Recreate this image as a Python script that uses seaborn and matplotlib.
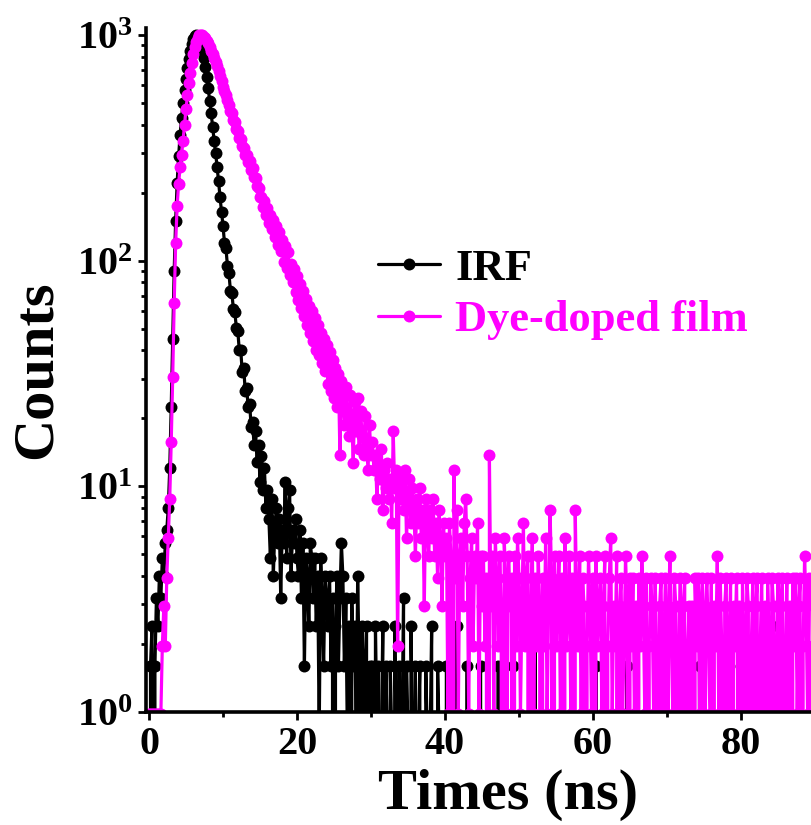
import numpy as np
import pandas as pd
import matplotlib
matplotlib.use("Agg")
import matplotlib.pyplot as plt
import seaborn as sns
from matplotlib.ticker import FixedLocator, LogLocator, NullFormatter, MultipleLocator

# ---------------- data ----------------
bin_ns = 0.2            # channel width of the decay histograms (ns)
irf_scale = 0.8         # normalised value of one IRF count
film_scale = 0.98       # normalised value of one film count

irf_counts = [
    0, 2, 3, 0, 2, 4, 3, 5, 4, 6, 5, 7, 8,
    10, 15, 28, 56, 112, 188, 275, 362, 450, 538,
    625, 712, 800, 888, 975, 1062, 1138, 1200, 1238, 1250,
    1231, 1188, 1125, 1062, 988, 900, 812, 725, 638, 562,
    488, 425, 375, 325, 281, 238, 206,
    178, 150, 142, 118, 110, 92, 90, 76, 74, 63,
    61, 50, 50, 40, 42, 33, 34, 28, 29, 23,
    24, 19, 22, 16, 19, 13, 17, 12, 15, 10,
    12,
    9, 6, 11, 5, 8, 10, 7, 9, 4, 8,
    7, 13, 6, 10, 12, 5, 8, 7, 9, 6,
    5, 8, 4, 7, 2, 6, 5, 3, 7, 6,
    4, 6, 3, 5, 1, 6, 4, 2, 5, 4,
    3, 5, 2, 4, 0, 3, 5, 2, 4, 7,
    5, 2, 4, 1, 3, 0, 4, 2, 3, 1,
    5, 2, 0, 3, 1, 2, 3, 0, 2, 1,
    2, 0, 3, 1, 2, 0, 1, 3, 0, 2,
    1, 0, 2, 1, 0, 3, 1, 0, 2, 0,
    1, 4, 0, 2, 1, 0, 3, 1, 0, 2,
    0, 1, 2, 0, 1, 0, 2, 1, 0, 1,
    3, 0, 1, 0, 2, 1, 0, 0, 1, 0,
    2, 0, 1, 0, 0, 1, 0, 3, 0, 1,
    0, 0, 1, 0, 2, 0, 0, 1, 0, 0,
    1, 0, 0, 2, 0, 1, 0, 0, 0, 1,
    0, 0, 1, 0, 0, 2, 0, 0, 1, 0,
    0, 1, 0, 0, 0, 2, 0, 0, 0, 1,
    0, 0, 1, 0, 0, 0, 1, 0, 0, 0,
    3, 0, 0, 1, 0, 0, 0, 1, 0, 0,
    0, 1, 0, 0, 0, 0, 1, 0, 0, 0,
    1, 0, 0, 0, 1, 0, 0, 0, 0, 1,
    0, 0, 0, 1, 0, 0, 0, 0, 1, 0,
    0, 2, 0, 0, 0, 1, 0, 0, 0, 0,
    1, 0, 0, 0, 0, 1, 0, 0, 0, 0,
    0, 0, 2, 0, 0, 0, 1, 0, 0, 0,
    0, 1, 0, 0, 0, 0, 0, 1, 0, 0,
    0, 0, 0, 1, 0, 0, 0, 0, 0, 1,
    0, 0, 0, 0, 1, 0, 0, 0, 0, 0,
    1, 0, 0, 0, 0, 0, 0, 1, 0, 0,
    0, 2, 0, 0, 0, 0, 1, 0, 0, 0,
    0, 0, 0, 0, 1, 0, 0, 0, 0, 0,
    0, 2, 0, 0, 0, 0, 0, 1, 0, 0,
    0, 0, 0, 1, 0, 0, 0, 0, 0, 0,
    1, 0, 0, 0, 0, 0, 0, 0, 1, 0,
    3, 0, 0, 0, 0, 1, 0, 0, 0, 0,
    0, 0, 1, 0, 0, 0, 0, 0, 0, 0,
    0, 1, 0, 0, 0, 0, 0, 0, 1, 0,
    0, 0, 0, 0, 1, 0, 0, 0, 0, 0,
]

film_counts = [
    1, 1, 1, 1, 1, 1, 1, 1, 1,
    2, 3, 2, 4, 6, 9, 16, 31, 66,
    122, 178, 224, 265, 301, 347, 408, 480, 551,
    622, 694, 765, 837, 898, 949, 990, 1015, 1020,
    1015, 1000, 985, 960, 938, 905, 870, 840, 805, 775,
    740, 706, 672, 636, 602, 578, 550, 525, 500, 470,
    462, 428, 420, 390, 381, 356, 352, 329, 322, 300,
    301, 280, 283, 258, 262, 240, 236, 218, 214, 195,
    196, 176, 188, 162, 175, 150, 163, 141, 155, 130,
    145, 120, 136, 112, 126, 101, 118, 95, 111, 88,
    99, 82, 94, 74, 87, 68, 80, 63, 75, 58,
    69, 53, 64, 49, 61, 45, 57, 41, 53, 39,
    49, 36, 46, 33, 43, 29, 40, 27, 37, 25,
    34, 23, 32, 14, 30, 25, 19, 28, 22, 17,
    26, 20, 13, 24, 18, 25, 15, 22, 17, 14,
    21, 16, 12, 19, 14,
    16, 12, 14, 9, 13, 11, 15, 8, 12, 10,
    13, 9, 11, 7, 18, 10, 12, 2, 11, 9,
    10, 8, 12, 6, 9, 11, 7, 10, 8, 5,
    9, 7, 10, 6, 8, 3, 9, 7, 5, 8,
    6, 9, 5, 7, 4, 8, 6, 3, 7, 5,
    6, 1, 7, 5, 0, 12, 4, 8, 1, 5,
    6, 3, 7, 9, 5, 1, 4, 6, 2, 5,
    4, 7, 1, 5, 3,
    5, 2, 4, 0, 14, 3, 5, 1, 6, 4,
    2, 5, 3, 0, 6, 4, 1, 5, 3, 4,
    0, 5, 2, 6, 4, 1, 3, 7, 2, 4,
    5, 0, 3, 6, 1, 4, 2, 5, 3, 0,
    4, 2, 6, 1, 3, 8, 4, 0, 5, 2,
    3, 5, 1, 4, 0, 6, 2, 3, 5, 1,
    4, 0, 8, 3, 2, 5, 1, 4, 3, 0,
    2, 5, 3, 1, 4, 0, 5, 2, 3, 4,
    1, 3, 5, 0, 2, 4, 6, 1, 3, 2,
    5, 0, 3, 4, 1, 2, 5, 3, 0, 4,
    2, 4, 1, 3, 0, 4, 2, 5, 3, 1,
    4, 0, 2, 4, 3, 1, 4, 2, 0, 3,
    4, 1, 2, 4, 0, 3, 5, 2, 1, 4,
    3, 0, 2, 4, 1, 3, 4, 0, 2, 3,
    1, 3, 0, 4, 2, 4, 1, 3, 4, 0,
    3, 4, 2, 1, 4, 0, 3, 2, 5, 1,
    4, 2, 0, 3, 4, 1, 2, 4, 0, 3,
    2, 4, 1, 3, 0, 4, 2, 1, 4, 3,
    0, 2, 4, 1, 3, 4, 0, 2, 4, 1,
    3, 0, 4, 2, 1, 4, 3, 0, 2, 4,
    1, 3, 4, 0, 2, 4, 1, 3, 0, 4,
    2, 4, 1, 3, 4, 0, 2, 5, 3, 1,
    4, 0, 2, 4, 3, 1, 4, 2, 0, 4,
    3, 1, 4, 2, 4,
]

series_labels = ["IRF", "Dye-doped film"]
series_colors = ["#000000", "#FF00FF"]
x_ticks = [0, 20, 40, 60, 80]
y_ticks = [1, 10, 100, 1000]
y_tick_labels = [r"$\mathbf{10^{0}}$", r"$\mathbf{10^{1}}$",
                 r"$\mathbf{10^{2}}$", r"$\mathbf{10^{3}}$"]
x_label = "Times (ns)"
y_label = "Counts"

# ---------------- table ----------------
frames = []
for lab, counts, scale in [(series_labels[0], irf_counts, irf_scale),
                           (series_labels[1], film_counts, film_scale)]:
    c = np.asarray(counts, dtype=float)
    frames.append(pd.DataFrame({"t": np.arange(len(c)) * bin_ns,
                                "v": c * scale, "s": lab}))
df = pd.concat(frames, ignore_index=True)

# ---------------- style ----------------
sns.set_style("ticks")
plt.rcParams["font.family"] = ["Liberation Serif", "DejaVu Serif"]
plt.rcParams["font.weight"] = "bold"
plt.rcParams["mathtext.fontset"] = "custom"
plt.rcParams["mathtext.rm"] = "Liberation Serif:bold"
plt.rcParams["mathtext.bf"] = "Liberation Serif:bold"
plt.rcParams["mathtext.it"] = "Liberation Serif:bold:italic"
for key in ["text.color", "axes.labelcolor", "xtick.color", "ytick.color",
            "axes.edgecolor"]:
    plt.rcParams[key] = "black"

W, H = 812, 825
fig = plt.figure(figsize=(W / 100, H / 100), dpi=100)
ax_l, ax_r, ax_b, ax_t = 146.5, 812, 712, 28
ax = fig.add_axes([ax_l / W, 1 - ax_b / H, (ax_r - ax_l) / W, (ax_b - ax_t) / H])

for lab, col in zip(series_labels, series_colors):
    sub = df[df["s"] == lab]
    sns.lineplot(data=sub, x="t", y="v", ax=ax, color=col, label=lab,
                 estimator=None, sort=False, marker="o", markersize=8.6,
                 markeredgewidth=0, linewidth=2.3, legend=False)

ax.set_yscale("log")
ax.set_xlim(-0.34, 89.6)
ax.set_ylim(1, 1073)

# spines
for s in ["top", "right"]:
    ax.spines[s].set_visible(False)
for s in ["left", "bottom"]:
    ax.spines[s].set_linewidth(2.6)
    ax.spines[s].set_color("black")

ax.yaxis.set_major_locator(FixedLocator(y_ticks))
ax.set_yticklabels(y_tick_labels)
ax.yaxis.set_minor_locator(LogLocator(base=10, subs=np.arange(2, 10)))
ax.yaxis.set_minor_formatter(NullFormatter())
ax.set_xticks(x_ticks)
ax.set_xticklabels([str(v) for v in x_ticks])
ax.xaxis.set_minor_locator(MultipleLocator(10))

ax.tick_params(which="major", direction="out", length=6, width=2.0,
               labelsize=29, pad=4, color="black", labelcolor="black")
ax.tick_params(which="minor", direction="out", length=3.5, width=2.0, color="black")
for lbl in ax.get_xticklabels() + ax.get_yticklabels():
    lbl.set_fontweight("bold")

ax.set_xlabel(x_label, fontsize=42, fontweight="bold", color="black")
ax.set_ylabel(y_label, fontsize=42, fontweight="bold", color="black")
ax.xaxis.label.set_va("center")
ax.xaxis.set_label_coords((508 - ax_l) / (ax_r - ax_l), (ax_b - 795) / (ax_b - ax_t))
ax.yaxis.label.set_va("center")
ax.yaxis.label.set_ha("center")
ax.yaxis.set_label_coords((37 - ax_l) / (ax_r - ax_l), 0.5)

leg = ax.legend(loc="center left",
                bbox_to_anchor=(378 / W, 1 - 294.5 / H),
                bbox_transform=fig.transFigure,
                frameon=False, handlelength=1.4,
                handletextpad=0.34, labelspacing=0.26,
                borderpad=0, borderaxespad=0,
                prop={"weight": "bold", "size": 32})
for txt, col in zip(leg.get_texts(), series_colors):
    txt.set_color(col)

fig.savefig("out.png", dpi=100)
